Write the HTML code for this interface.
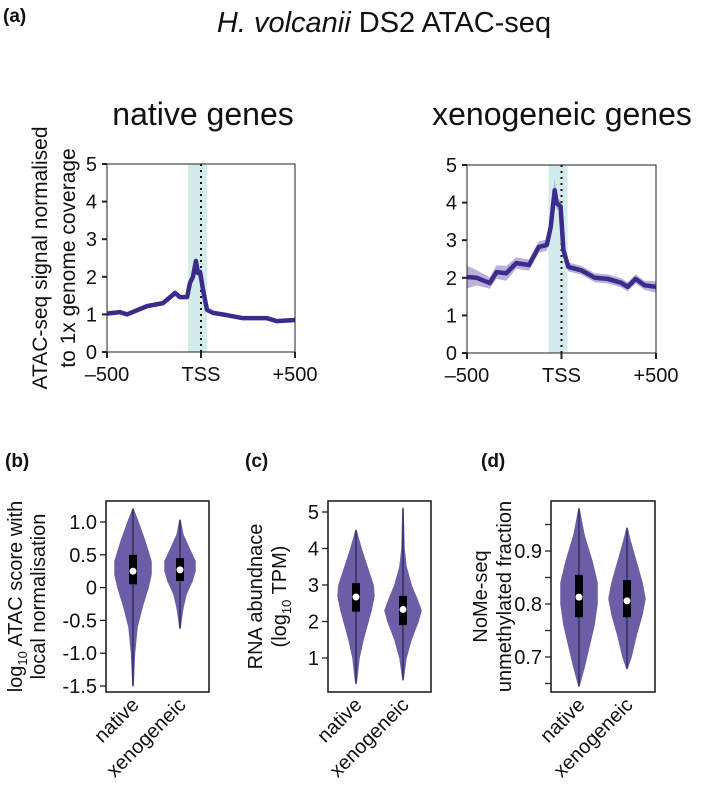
<!DOCTYPE html>
<html><head><meta charset="utf-8"><style>
body{margin:0;background:#fff}
svg text{font-family:"Liberation Sans",Arial,sans-serif;fill:#111}
</style></head><body>
<svg id="fig" width="709" height="794" viewBox="0 0 709 794" xmlns="http://www.w3.org/2000/svg">
<text x="3" y="22" font-size="19" font-weight="bold">(a)</text>
<text x="384" y="32" font-size="29" text-anchor="middle"><tspan font-style="italic">H. volcanii</tspan> DS2 ATAC-seq</text>
<text x="203" y="125" font-size="32" text-anchor="middle">native genes</text>
<text x="562" y="125" font-size="32" text-anchor="middle">xenogeneic genes</text>
<text transform="translate(47,258) rotate(-90)" font-size="21" text-anchor="middle">ATAC-seq signal normalised</text>
<text transform="translate(75,258) rotate(-90)" font-size="21" text-anchor="middle">to 1x genome coverage</text>
<text x="5" y="467" font-size="19" font-weight="bold">(b)</text>
<text x="245" y="467" font-size="19" font-weight="bold">(c)</text>
<text x="481" y="467" font-size="19" font-weight="bold">(d)</text>
<g id="plots"></g>
</svg>
<script>
// Panel a data
const tssX = [-500,-431,-394,-287,-202,-138,-112,-74,-59,-43,-27,-16,-5,11,32,64,138,223,351,404,500];
const nativeSignal = [1.02,1.06,1.0,1.22,1.3,1.57,1.46,1.46,1.83,2.0,2.42,2.1,2.13,1.65,1.12,1.04,0.98,0.9,0.9,0.82,0.85];
const xenoX = [-500,-448,-380,-344,-292,-240,-172,-120,-78,-57,-36,-26,-5,10,36,104,177,245,314,350,392,440,500];
const xenoSignal = [2.02,2.0,1.86,2.15,2.12,2.39,2.34,2.82,2.87,3.35,4.33,3.99,3.9,2.74,2.29,2.2,2.0,1.97,1.87,1.76,1.97,1.8,1.76];
const xenoErr = [0.3,0.2,0.15,0.18,0.2,0.15,0.15,0.15,0.15,0.15,0.3,0.15,0.15,0.12,0.12,0.12,0.12,0.12,0.12,0.12,0.12,0.12,0.15];
const yTicksA = [0,1,2,3,4,5];
const xTickLabelsA = ["\u2013500","TSS","+500"];
const xTickValsA = [-500,0,500];
// Panel b-d data
const categories = ["native","xenogeneic"];
const bNativeV = [-1.5,-1.0,-0.6,-0.3,0,0.2,0.4,0.7,1.0,1.2];
const bNativeW = [0,1.5,4,9,15,18,18,12,5,0];
const bXenoV = [-0.62,-0.5,-0.3,-0.1,0.1,0.25,0.4,0.6,0.8,1.03];
const bXenoW = [0,1,3,6,12,15,15,9,3,0];
const bBox = [[0.05,0.25,0.5],[0.1,0.27,0.45]];
const cNativeV = [0.3,0.5,1.0,1.5,2.0,2.3,2.7,3.0,3.5,4.0,4.5];
const cNativeW = [0,1,3,7,12,15,18,17,11,5,0];
const cXenoV = [0.4,0.6,1.0,1.5,2.0,2.3,2.6,3.0,3.5,4.0,5.1];
const cXenoW = [0,1,3,8,15,18,14,8,3,1,0];
const cBox = [[2.27,2.67,3.05],[1.9,2.33,2.7]];
const dNativeV = [0.645,0.68,0.72,0.76,0.80,0.84,0.88,0.93,0.98];
const dNativeW = [0,5,10,15,18,18,13,5,0];
const dXenoV = [0.678,0.70,0.74,0.78,0.81,0.84,0.88,0.92,0.943];
const dXenoW = [0,4,9,15,18,15,9,3,0];
const dBox = [[0.775,0.813,0.855],[0.775,0.806,0.845]];

const NS="http://www.w3.org/2000/svg";
const root=document.getElementById('plots');
function mk(tag,attrs,parent){const e=document.createElementNS(NS,tag);for(const k in attrs)e.setAttribute(k,attrs[k]);(parent||root).appendChild(e);return e;}

function linePanel(name,L,R,T,B,xs,ys,err){
  const sx=v=>L+(v+500)/1000*(R-L), sy=v=>B-v/5*(B-T);
  const g=mk('g',{});
  
  
  const sh=mk('rect',{x:sx(-69),y:T,width:sx(32)-sx(-69),height:B-T,fill:'#d3ebea'},g);
  
  
  const tl=mk('line',{x1:sx(0),x2:sx(0),y1:T,y2:B,stroke:'#111','stroke-width':2,'stroke-dasharray':'2,4'},g);
  
  
  if(err){
    let d='';xs.forEach((x,i)=>d+=(i?'L':'M')+sx(x)+','+sy(ys[i]+err[i]));
    for(let i=xs.length-1;i>=0;i--)d+='L'+sx(xs[i])+','+sy(ys[i]-err[i]);
    const band=mk('path',{d:d+'Z',fill:'#a99cd0',opacity:0.8},g);
    
    
  }
  const pts=xs.map((x,i)=>sx(x)+','+sy(ys[i])).join(' ');
  const pl=mk('polyline',{points:pts,fill:'none',stroke:'#3b2b8c','stroke-width':4.5,'stroke-linejoin':'round'},g);
  
  
  const fr=mk('path',{d:`M${L},${T}H${R}V${B}H${L}Z`,fill:'none',stroke:'#222','stroke-width':1},g);
  
  
  yTicksA.forEach(v=>{
    mk('line',{x1:L-5,x2:L,y1:sy(v),y2:sy(v),stroke:'#222','stroke-width':2},g);
    const t=mk('text',{x:L-10,y:sy(v)+7,'font-size':20,'text-anchor':'end'},g);t.textContent=v;
    
    
  });
  xTickValsA.forEach((v,i)=>{
    mk('line',{x1:sx(v),x2:sx(v),y1:B,y2:B+6,stroke:'#222','stroke-width':2},g);
    const t=mk('text',{x:sx(v),y:B+29,'font-size':20,'text-anchor':'middle'},g);t.textContent=xTickLabelsA[i];
    
    
  });
}
linePanel('native-profile-chart',107,295,164,352,tssX,nativeSignal,null);
linePanel('xeno-profile-chart',467,656,165,353,xenoX,xenoSignal,xenoErr);

function violinPanel(name,L,R,T,B,sy,ticks,minor,violins,boxes,centers,titles){
  const g=mk('g',{});
  
  
  violins.forEach((vw,k)=>{
    const cx=centers[k];const [vs,ws]=vw;
    let d='';vs.forEach((v,i)=>d+=(i?'L':'M')+(cx+ws[i])+','+sy(v));
    for(let i=vs.length-1;i>=0;i--)d+='L'+(cx-ws[i])+','+sy(vs[i]);
    const p=mk('path',{d:d+'Z',fill:'#6b5ea6','stroke':'#6b5ea6','stroke-width':1.5,'stroke-linejoin':'round'},g);
    
    
    mk('line',{x1:cx,x2:cx,y1:sy(vs[vs.length-1]),y2:sy(vs[0]),stroke:'#1a1440','stroke-width':1},g);
    const [q1,med,q3]=boxes[k];
    const bx=mk('rect',{x:cx-4,y:sy(q3),width:8,height:sy(q1)-sy(q3),fill:'#000'},g);
    
    
    const m=mk('circle',{cx:cx,cy:sy(med),r:3.5,fill:'#fff'},g);
    
    
    const t=mk('text',{transform:`translate(${cx+7},${B+14}) rotate(-45)`,'font-size':20,'text-anchor':'end'},g);
    t.textContent=categories[k];
    
    
  });
  const fr=mk('rect',{x:L,y:T,width:R-L,height:B-T,fill:'none',stroke:'#222','stroke-width':1.6},g);
  
  
  ticks.forEach(([v,lab])=>{
    mk('line',{x1:L-6,x2:L,y1:sy(v),y2:sy(v),stroke:'#222','stroke-width':1.3},g);
    const t=mk('text',{x:L-9,y:sy(v)+7,'font-size':20,'text-anchor':'end'},g);t.textContent=lab;
    
    
  });
  minor.forEach(v=>mk('line',{x1:L-6,x2:L,y1:sy(v),y2:sy(v),stroke:'#222','stroke-width':1.3},g));
  titles.forEach(([x,txt])=>{
    const t=mk('text',{transform:`translate(${x},${(T+B)/2}) rotate(-90)`,'font-size':20,'text-anchor':'middle'},g);
    t.innerHTML=txt;
    
    
  });
}
violinPanel('atac-violin-chart',106,209,501,692,v=>522+(1-v)/0.5*32.8,
  [[1,'1.0'],[0.5,'0.5'],[0,'0'],[-0.5,'-0.5'],[-1,'-1.0'],[-1.5,'-1.5']],[],
  [[bNativeV,bNativeW],[bXenoV,bXenoW]],bBox,[133,180],
  [[22,'log<tspan font-size="13" dy="5">10</tspan><tspan dy="-5"> ATAC score with</tspan>'],[45,'local normalisation']]);
violinPanel('rna-violin-chart',328,431,501,692,v=>658-(v-1)*36.5,
  [[5,'5'],[4,'4'],[3,'3'],[2,'2'],[1,'1']],[],
  [[cNativeV,cNativeW],[cXenoV,cXenoW]],cBox,[356,403],
  [[262,'RNA abundnace'],[286,'(log<tspan font-size="13" dy="5">10</tspan><tspan dy="-5"> TPM)</tspan>']]);
violinPanel('nome-violin-chart',551,655,501,692,v=>551+(0.9-v)*530,
  [[0.9,'0.9'],[0.8,'0.8'],[0.7,'0.7']],[0.95,0.85,0.75,0.65],
  [[dNativeV,dNativeW],[dXenoV,dXenoW]],dBox,[579,627],
  [[487,'NoMe-seq'],[511,'unmethylated fraction']]);
</script>
</body></html>
